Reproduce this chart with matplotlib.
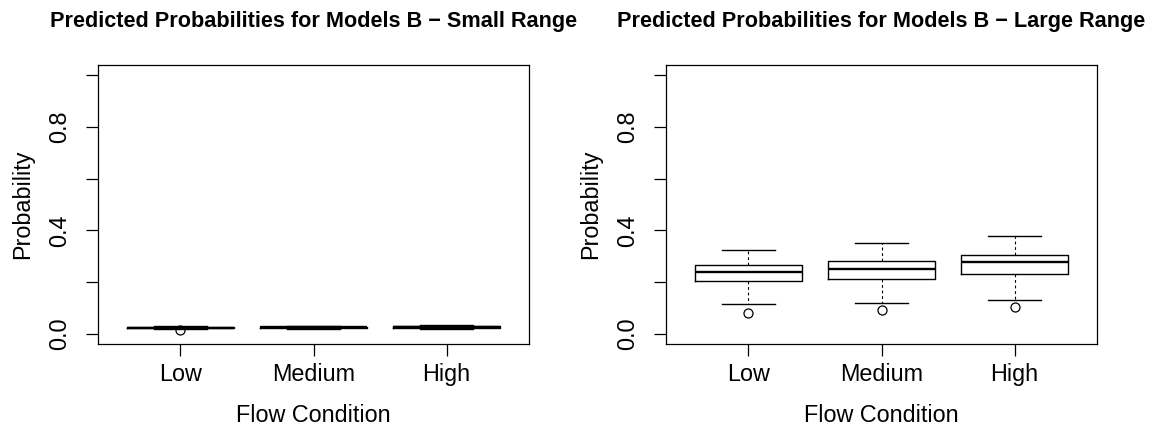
import matplotlib
matplotlib.use('Agg')
import matplotlib.pyplot as plt

plt.rcParams['font.family'] = ['Liberation Sans', 'DejaVu Sans']

conditions = ['Low', 'Medium', 'High']

# small range model (values squashed near zero)
small_whislo = [0.017, 0.018, 0.019]
small_q1 = [0.021, 0.022, 0.023]
small_med = [0.023, 0.024, 0.0255]
small_q3 = [0.025, 0.026, 0.028]
small_whishi = [0.030, 0.031, 0.032]
small_fliers = [[0.0145], [], []]

# large range model
large_whislo = [0.115, 0.119, 0.132]
large_q1 = [0.204, 0.213, 0.232]
large_med = [0.240, 0.252, 0.276]
large_q3 = [0.264, 0.282, 0.303]
large_whishi = [0.322, 0.350, 0.377]
large_fliers = [[0.079], [0.091], [0.105]]

titles = ['Predicted Probabilities for Models B \u2212 Small Range',
          'Predicted Probabilities for Models B \u2212 Large Range']

W, H = 1153, 430
fig = plt.figure(figsize=(W / 100, H / 100), dpi=100)

ax_left = [98, 666]
ax_w, ax_top, ax_bot = 431, 65, 344


def make_stats(lo, q1, med, q3, hi, fl):
    stats = []
    for i in range(len(conditions)):
        stats.append(dict(whislo=lo[i], q1=q1[i], med=med[i], q3=q3[i],
                          whishi=hi[i], fliers=fl[i], label=conditions[i]))
    return stats


panels = [
    make_stats(small_whislo, small_q1, small_med, small_q3, small_whishi, small_fliers),
    make_stats(large_whislo, large_q1, large_med, large_q3, large_whishi, large_fliers),
]

for k, stats in enumerate(panels):
    ax = fig.add_axes([ax_left[k] / W, (H - ax_bot) / H, ax_w / W, (ax_bot - ax_top) / H])
    ax.bxp(stats, positions=[1, 2, 3], widths=0.8,
           boxprops=dict(color='black', linewidth=1.0),
           medianprops=dict(color='black', linewidth=1.7),
           whiskerprops=dict(color='black', linewidth=0.8, linestyle=(0, (2.5, 2.5))),
           capprops=dict(color='black', linewidth=1.0),
           flierprops=dict(marker='o', markerfacecolor='none', markeredgecolor='black',
                           markersize=6.5, markeredgewidth=0.9))
    ax.set_xlim(0.38, 3.62)
    ax.set_ylim(-0.04, 1.04)
    ax.set_xticks([1, 2, 3])
    ax.set_xticklabels(conditions)
    ax.set_yticks([0, 0.2, 0.4, 0.6, 0.8, 1.0])
    ax.set_yticklabels(['0.0', '', '0.4', '', '0.8', ''], rotation=90, va='center')
    ax.tick_params(axis='both', length=8.4, width=0.9, labelsize=16.8, direction='out')
    ax.tick_params(axis='x', pad=5)
    ax.tick_params(axis='y', pad=11)
    for s in ax.spines.values():
        s.set_linewidth(0.9)

    ax.set_xlabel('Flow Condition', fontsize=16.8)
    ax.xaxis.label.set_va('center')
    ax.xaxis.set_label_coords(0.5, -71 / 279)
    ax.set_ylabel('Probability', fontsize=16.8)
    ax.yaxis.label.set_va('center')
    ax.yaxis.set_label_coords(-75 / 431, 0.5)

    ax.text(0.5, 1 + 43 / 279, titles[k], transform=ax.transAxes,
            ha='center', va='center', fontsize=15.6, fontweight='bold')

fig.savefig('out.png', dpi=100)
